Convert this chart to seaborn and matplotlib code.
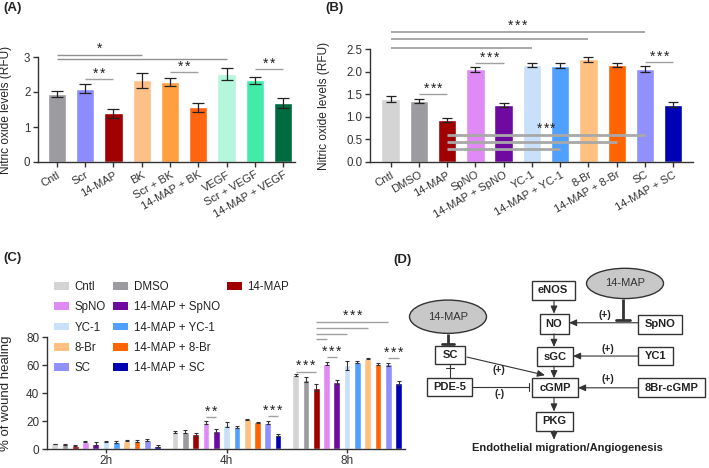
import matplotlib
matplotlib.use("Agg")
import matplotlib.pyplot as plt
from matplotlib.patches import Patch, Ellipse, Rectangle
import pandas as pd
import seaborn as sns

# ---- (A) nitric oxide, BK / VEGF ----
a_groups = ["Cntl", "Scr", "14-MAP", "BK", "Scr + BK", "14-MAP + BK",
            "VEGF", "Scr + VEGF", "14-MAP + VEGF"]
a_mean = [1.94, 2.09, 1.39, 2.33, 2.29, 1.56, 2.51, 2.33, 1.68]
a_err = [0.09, 0.13, 0.13, 0.22, 0.11, 0.12, 0.18, 0.10, 0.14]
a_colors = ["#9b9ba0", "#8c8cff", "#a00000", "#ffc088", "#ffa040", "#ff6410",
            "#b4f7dc", "#42eca8", "#006b40"]

# ---- (B) nitric oxide, NO/cGMP modulators ----
b_groups = ["Cntl", "DMSO", "14-MAP", "SpNO", "14-MAP + SpNO", "YC-1",
            "14-MAP + YC-1", "8-Br", "14-MAP + 8-Br", "SC", "14-MAP + SC"]
b_mean = [1.40, 1.35, 0.92, 2.05, 1.26, 2.15, 2.13, 2.27, 2.14, 2.06, 1.27]
b_err = [0.07, 0.05, 0.045, 0.055, 0.035, 0.05, 0.06, 0.05, 0.045, 0.065, 0.05]
b_colors = ["#d4d4d4", "#9c9ca0", "#a00000", "#e08af6", "#6e0aa0", "#c8e0fa",
            "#50a0ff", "#ffc080", "#ff6400", "#9090ff", "#0000b4"]

# ---- (C) wound healing ----
c_times = ["2h", "4h", "8h"]
c_2h = [3.6, 3.4, 2.4, 5.2, 3.8, 5.5, 5.0, 6.0, 5.8, 6.3, 2.2]
c_4h = [12.2, 12.5, 10.4, 18.8, 12.7, 17.4, 15.8, 21.1, 19.0, 18.8, 10.0]
c_8h = [53.1, 49.6, 43.7, 61.0, 47.9, 59.7, 62.0, 64.5, 60.7, 60.5, 47.2]
c_2h_err = [0.3, 0.4, 0.4, 0.5, 0.9, 0.5, 1.0, 0.3, 0.9, 0.5, 0.5]
c_4h_err = [1.0, 1.0, 1.2, 1.2, 1.5, 2.0, 0.5, 0.3, 0.4, 1.0, 0.4]
c_8h_err = [0.8, 1.5, 2.5, 1.3, 1.5, 3.0, 0.8, 0.5, 0.5, 1.0, 1.2]

AX_COLOR = "#333333"
LINE_GRAY = "#a0a0a0"

sns.set_style("ticks")
plt.rcParams["font.family"] = ["Liberation Sans", "DejaVu Sans"]
plt.rcParams["axes.edgecolor"] = AX_COLOR
plt.rcParams["axes.linewidth"] = 1.0
plt.rcParams["xtick.color"] = AX_COLOR
plt.rcParams["ytick.color"] = AX_COLOR
plt.rcParams["text.color"] = "#222222"


def style_axis(ax, fs=8.3):
    sns.despine(ax=ax)
    ax.tick_params(axis="both", length=3.5, width=1.0, labelsize=fs, pad=2)
    ax.set_xlabel("")


def stars(ax, x, y, n, dy=4.0):
    for k in range(n):
        ax.annotate("*", xy=(x, y), xytext=((k - (n - 1) / 2) * 5.0, dy),
                    textcoords="offset points", ha="center", va="center",
                    fontsize=10, annotation_clip=False, zorder=6)


def sig(ax, x1, x2, y, n=0, color=LINE_GRAY, lw=1.0, zorder=5):
    ax.plot([x1, x2], [y, y], color=color, lw=lw, clip_on=False,
            zorder=zorder, solid_capstyle="butt")
    if n:
        stars(ax, (x1 + x2) / 2, y, n)


fig = plt.figure(figsize=(7.09, 4.68), dpi=100)
W, H = 709, 468


def px_axes(x0, y0, x1, y1):
    return fig.add_axes([x0 / W, 1 - y1 / H, (x1 - x0) / W, (y1 - y0) / H])


# ================= panel A =================
ax_a = px_axes(38, 57, 295, 162)
sns.barplot(x=a_groups, y=a_mean, hue=a_groups, palette=a_colors, legend=False,
            width=0.65, saturation=1, ax=ax_a)
ax_a.errorbar(range(len(a_groups)), a_mean, yerr=a_err, fmt="none",
              ecolor="#222222", elinewidth=0.9, capsize=4, capthick=0.9, zorder=3)
ax_a.set_ylim(0, 3)
ax_a.set_yticks([0, 1, 2, 3])
ax_a.set_xlim(-0.67, 8.42)
style_axis(ax_a)
ax_a.set_xticks(range(len(a_groups)))
ax_a.set_xticklabels(a_groups, rotation=30, ha="right", rotation_mode="anchor", fontsize=8)
ax_a.set_ylabel("Nitric oxide levels (RFU)", fontsize=8.6)
ax_a.yaxis.set_label_coords(-0.1, 0.5)

ia = a_groups.index
sig(ax_a, ia("Cntl"), ia("BK"), 3.07, color="#909090")
sig(ax_a, ia("Cntl"), ia("VEGF"), 2.94, color="#909090")
stars(ax_a, (ia("Cntl") + ia("BK")) / 2, 3.07, 1)
sig(ax_a, ia("Scr"), ia("14-MAP"), 2.37, 2)
sig(ax_a, ia("Scr + BK"), ia("14-MAP + BK"), 2.56, 2)
sig(ax_a, ia("Scr + VEGF"), ia("14-MAP + VEGF"), 2.65, 2)

# ================= panel B =================
ax_b = px_axes(370, 49, 693, 162)
sns.barplot(x=b_groups, y=b_mean, hue=b_groups, palette=b_colors, legend=False,
            width=0.65, saturation=1, ax=ax_b)
ax_b.errorbar(range(len(b_groups)), b_mean, yerr=b_err, fmt="none",
              ecolor="#222222", elinewidth=0.9, capsize=3.5, capthick=0.9, zorder=3)
ax_b.set_ylim(0, 2.5)
ax_b.set_yticks([0, 0.5, 1.0, 1.5, 2.0, 2.5])
ax_b.set_xlim(-0.73, 10.7)
style_axis(ax_b)
ax_b.set_xticks(range(len(b_groups)))
ax_b.set_xticklabels(b_groups, rotation=30, ha="right", rotation_mode="anchor", fontsize=8)
ax_b.set_ylabel("Nitric oxide levels (RFU)", fontsize=8.6)
ax_b.yaxis.set_label_coords(-0.124, 0.5)

ib = b_groups.index
for end, yy in [("SC", 2.88), ("8-Br", 2.72), ("YC-1", 2.52)]:
    sig(ax_b, ib("Cntl"), ib(end), yy, lw=1.3)
stars(ax_b, (ib("Cntl") + ib("SC")) / 2, 2.88, 3, dy=4.5)
sig(ax_b, ib("DMSO"), ib("14-MAP"), 1.50, 3)
sig(ax_b, ib("SpNO"), ib("14-MAP + SpNO"), 2.19, 3)
sig(ax_b, ib("SC"), ib("14-MAP + SC"), 2.21, 3)
for end, yy in [("SC", 0.60), ("14-MAP + 8-Br", 0.45), ("14-MAP + YC-1", 0.29)]:
    sig(ax_b, ib("14-MAP"), ib(end), yy, color="#a8a8a8", lw=2.0, zorder=6)
stars(ax_b, (ib("14-MAP") + ib("SC")) / 2, 0.60, 3, dy=4.5)

# ================= panel C =================
ax_c = px_axes(47, 337, 405, 449)
c_vals = [c_2h, c_4h, c_8h]
c_errs = [c_2h_err, c_4h_err, c_8h_err]
df_c = pd.DataFrame({
    "time": [t for t, v in zip(c_times, c_vals) for _ in v],
    "group": [g for v in c_vals for g in b_groups],
    "value": [x for v in c_vals for x in v],
})
sns.barplot(data=df_c, x="time", y="value", hue="group", hue_order=b_groups,
            palette=dict(zip(b_groups, b_colors)), width=0.94, gap=0.35,
            saturation=1, errorbar=None, legend=False, ax=ax_c)
bar_containers = list(ax_c.containers)
pos_c = {}
for gi, cont in enumerate(bar_containers):
    for ti, bar in enumerate(cont):
        xc = bar.get_x() + bar.get_width() / 2
        pos_c[(c_times[ti], b_groups[gi])] = xc
        ax_c.errorbar(xc, bar.get_height(), yerr=c_errs[ti][gi], fmt="none",
                      ecolor="#333333", elinewidth=0.8, capsize=1.6, capthick=0.8, zorder=3)
ax_c.set_ylim(0, 80)
ax_c.set_yticks([0, 20, 40, 60, 80])
ax_c.set_xlim(-0.49, 2.48)
style_axis(ax_c, fs=8.5)
ax_c.tick_params(axis="x", length=3, pad=1)
ax_c.set_ylabel("% of wound healing", fontsize=9.5)
ax_c.yaxis.set_label_coords(-0.098, 0.5)


def pc(t, g):
    return pos_c[(t, g)]


sig(ax_c, pc("4h", "SpNO"), pc("4h", "14-MAP + SpNO"), 22.7, 2)
sig(ax_c, pc("4h", "SC"), pc("4h", "14-MAP + SC"), 23.4, 3)
sig(ax_c, pc("8h", "Cntl"), pc("8h", "14-MAP"), 55.2, 3)
sig(ax_c, pc("8h", "SpNO"), pc("8h", "14-MAP + SpNO"), 65.8, 3)
sig(ax_c, pc("8h", "SC"), pc("8h", "14-MAP + SC"), 65.1, 3)
for end, yy in [("SC", 90.6), ("8-Br", 86.4), ("YC-1", 82.1), ("SpNO", 78.6)]:
    sig(ax_c, pc("8h", "14-MAP"), pc("8h", end), yy)
stars(ax_c, (pc("8h", "14-MAP") + pc("8h", "SC")) / 2, 90.6, 3, dy=4.5)

# legend laid out row-wise like the original (3 columns)
col1 = ["Cntl", "SpNO", "YC-1", "8-Br", "SC"]
col2 = ["DMSO", "14-MAP + SpNO", "14-MAP + YC-1", "14-MAP + 8-Br", "14-MAP + SC"]
col3 = ["14-MAP"]
cmap_c = dict(zip(b_groups, b_colors))
handles, labels = [], []
for col in (col1, col2, col3):
    for k in range(5):
        if k < len(col):
            handles.append(Patch(facecolor=cmap_c[col[k]], edgecolor="none"))
            labels.append(col[k])
        else:
            handles.append(Patch(facecolor="none", edgecolor="none"))
            labels.append("")
fig.legend(handles, labels, ncol=3, loc="upper left",
           bbox_to_anchor=(54 / W, 1 - 281 / H), frameon=False, fontsize=8.3,
           handlelength=1.3, handleheight=0.65, handletextpad=0.5,
           columnspacing=0.6, labelspacing=0.72, borderpad=0, borderaxespad=0)

# ================= panel D (schematic) =================
ax_d = fig.add_axes([360 / W, 0, 349 / W, 235 / H])
ax_d.set_xlim(360, 709)
ax_d.set_ylim(468, 235)
ax_d.axis("off")
ax_d.patch.set_visible(False)

boxes = {
    "eNOS": (553, 292, 43, 19),
    "NO": (554, 325, 29, 20),
    "sGC": (555, 357.5, 36, 19),
    "cGMP": (555, 388.5, 46, 19),
    "PKG": (554.5, 421.5, 37, 19),
    "SpNO": (660, 325.5, 44, 19),
    "YC1": (655.5, 357, 35, 18),
    "8Br-cGMP": (671.5, 388.5, 67, 19),
    "SC": (450, 356, 30, 18),
    "PDE-5": (449.5, 388, 45, 18),
}
for name, (cx, cy, bw, bh) in boxes.items():
    ax_d.add_patch(Rectangle((cx - bw / 2, cy - bh / 2), bw, bh, facecolor="white",
                             edgecolor=AX_COLOR, lw=1.0))
    ax_d.text(cx, cy, name, ha="center", va="center", fontsize=8, fontweight="bold")

for (cx, cy, ew, eh) in [(625, 285, 77, 30), (448, 318, 77, 33)]:
    ax_d.add_patch(Ellipse((cx, cy), ew, eh, facecolor="#c8c8c8", edgecolor=AX_COLOR, lw=1.0))
    ax_d.text(cx, cy, "14-MAP", ha="center", va="center", fontsize=8, color="#333333")


def arrow(p0, p1):
    ax_d.annotate("", xy=p1, xytext=p0,
                  arrowprops=dict(arrowstyle="-|>,head_length=0.45,head_width=0.2",
                                  lw=0.8, color=AX_COLOR, shrinkA=0, shrinkB=0,
                                  mutation_scale=10))


def block(p0, p1, half, lw, vertical_bar):
    ax_d.plot([p0[0], p1[0]], [p0[1], p1[1]], color=AX_COLOR, lw=lw, solid_capstyle="butt")
    if vertical_bar:
        ax_d.plot([p1[0], p1[0]], [p1[1] - half, p1[1] + half], color=AX_COLOR, lw=lw)
    else:
        ax_d.plot([p1[0] - half, p1[0] + half], [p1[1], p1[1]], color=AX_COLOR, lw=lw)


# main vertical chain
arrow((554, 302), (554, 315))
arrow((554, 335), (554, 348))
arrow((554, 367), (554, 379))
arrow((554, 398), (554, 412))
arrow((554, 431), (554, 440))
# activators
arrow((638, 324), (569, 324))
arrow((638, 357), (573, 357))
arrow((638, 388.5), (578, 388.5))
arrow((467, 358), (545, 376))
# inhibitions
block((623, 300), (623, 321), 7, 2.0, False)
block((448, 335), (448, 345), 6, 2.0, False)
block((450, 365), (450, 379), 0, 0.8, False)
ax_d.plot([446, 454], [369, 369], color=AX_COLOR, lw=0.8)
block((472, 388), (529, 388), 4, 0.8, True)

for (tx, ty, s) in [(605, 316, "(+)"), (608, 350, "(+)"), (608, 380, "(+)"),
                    (499, 371, "(+)"), (500, 395, "(-)")]:
    ax_d.text(tx, ty, s, ha="center", va="center", fontsize=7.5, fontweight="bold")
ax_d.text(567, 448, "Endothelial migration/Angiogenesis", ha="center", va="center",
          fontsize=8, fontweight="bold")

# panel letters
for (lx, ly, s) in [(3, 8, "(A)"), (325, 8.5, "(B)"), (3, 258, "(C)"), (393, 260, "(D)")]:
    fig.text(lx / W, 1 - ly / H, s, ha="left", va="center", fontsize=9.5, fontweight="bold")

fig.savefig("out.png", dpi=100)
